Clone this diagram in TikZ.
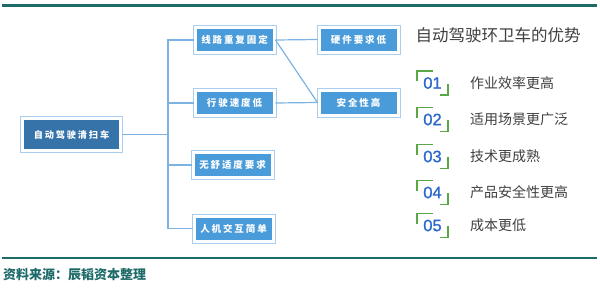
\documentclass[tikz,border=0pt]{standalone}
\usepackage{fontspec}
\usetikzlibrary{positioning}
\newfontfamily\cjk{Noto Sans CJK SC}
\newfontfamily\cjkbox[LetterSpace=20]{Noto Sans CJK SC}
\newfontfamily\numfont[FakeBold=1.2]{Liberation Sans}
\definecolor{ruleteal}{HTML}{1D6B69}
\definecolor{mainblue}{HTML}{3573A9}
\definecolor{boxblue}{HTML}{4A9BD9}
\definecolor{boxedge}{HTML}{A8CDEE}
\definecolor{linkblue}{HTML}{7DB3E2}
\definecolor{numblue}{HTML}{2D68CC}
\definecolor{brkgreen}{HTML}{5BA645}
\definecolor{txtgray}{HTML}{3F3F3F}
\begin{document}
\begin{tikzpicture}[x=1pt,y=-1pt,
  box/.style={fill=boxblue,draw=white,line width=3pt,preaction={draw=boxedge,line width=5pt},minimum width=79pt,minimum height=25pt,inner sep=0pt,text=white,font=\cjkbox\bfseries\fontsize{9.5}{11}\selectfont},
  mainbox/.style={box,fill=mainblue,minimum width=98pt,minimum height=32pt,font=\cjkbox\bfseries\fontsize{9.2}{11}\selectfont},
  link/.style={draw=linkblue,line width=1.2pt},
  brk/.style={draw=brkgreen,line width=1.5pt},
  numbox/.style={minimum width=30.5pt,minimum height=23.5pt,inner sep=0pt,text=numblue,font=\numfont\fontsize{16.5}{18}\selectfont},
  item/.style={inner sep=0pt,text=txtgray,font=\cjk\fontsize{14}{16}\selectfont}]
\useasboundingbox (0,0) rectangle (600,290);
% rules at top and bottom
\draw[ruleteal,line width=2.5pt] (2,5.3)--(597,5.3);
\draw[ruleteal,line width=2.3pt] (2,257.8)--(597,257.8);
\node[anchor=west,inner sep=0pt,text=ruleteal,font=\cjk\bfseries\fontsize{13}{15}\selectfont] (src) at (3,275) {资料来源：辰韬资本整理};
% tree of boxes
\node[mainbox] (main) at (71.5,134.5) {自动驾驶清扫车};
\foreach \n/\x/\y/\t in {b1/234.5/40/线路重复固定,b2/234.5/103/行驶速度低,b3/232.5/165/无舒适度要求,b4/233.5/228.5/人机交互简单,r1/358.5/39.5/硬件要求低,r2/358.5/102.5/安全性高}
  \node[box] (\n) at (\x,\y) {\t};
\coordinate (trunk) at (168,0);
\draw[link] (main.east)--(main.east -| trunk);
\draw[link] (b1.west) -| (trunk |- b4.west)--(b4.west);
\foreach \n in {b2,b3} \draw[link] (\n.west)--(\n.west -| trunk);
\draw[link] (b1.east)--(r1.west);
\draw[link] (b1.east)--(r2.west);
\draw[link] (b2.east)--(r2.west);
% advantages list
\node[text=txtgray,font=\cjk\fontsize{16.5}{18}\selectfont] (title) at (498,35) {自动驾驶环卫车的优势};
\foreach \i/\y/\t in {01/83/作业效率更高,02/119.5/适用场景更广泛,03/156.5/技术更成熟,04/192.5/产品安全性更高,05/225.5/成本更低} {
  \node[numbox] (n\i) at (432.5,\y) {\i};
  \draw[brk] (n\i.north west) ++(0,10)--(n\i.north west)--++(16,0);
  \draw[brk] (n\i.south east) ++(0,-11)--(n\i.south east)--++(-8,0);
  \node[item,right=22pt of n\i] (t\i) {\t};
}
\end{tikzpicture}
\end{document}
